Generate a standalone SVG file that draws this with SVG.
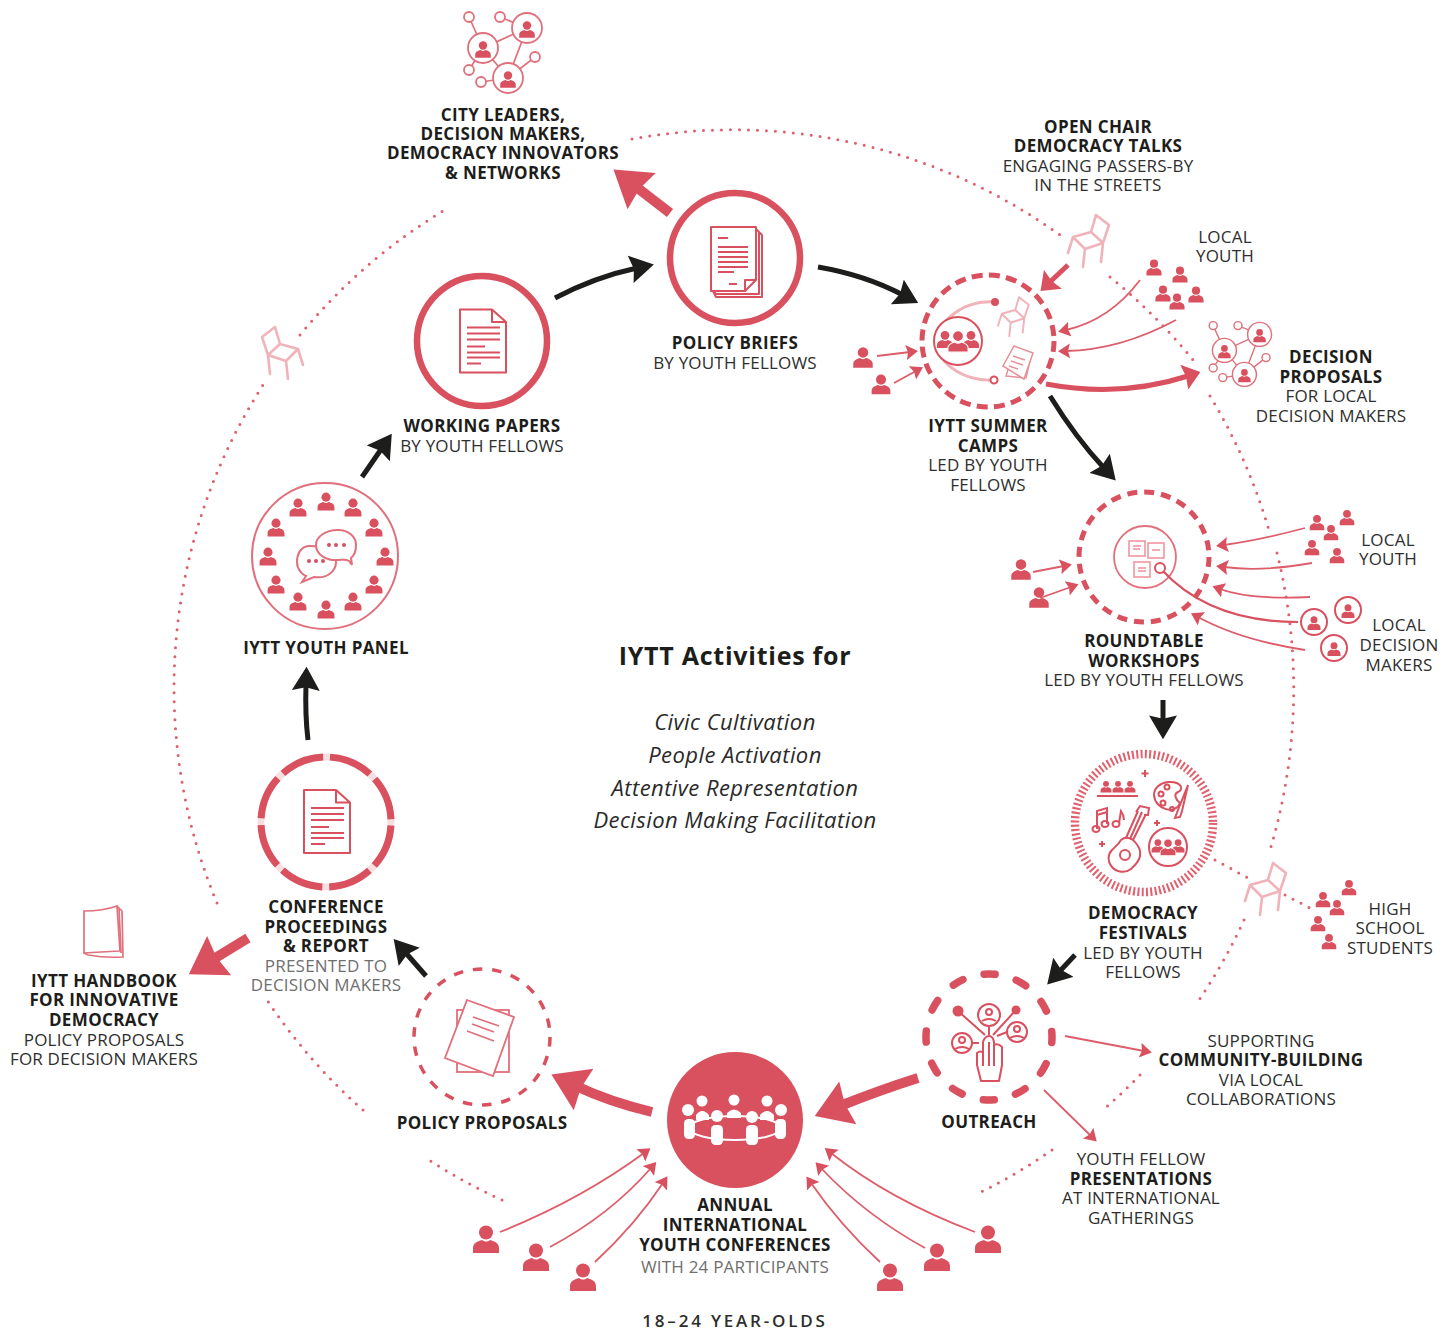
<svg xmlns="http://www.w3.org/2000/svg" width="1453" height="1332" viewBox="0 0 1453 1332">
<style>
text{font-family:"Open Sans","DejaVu Sans",sans-serif;font-size:17px;letter-spacing:.2px;text-anchor:middle;fill:#2e2e2e}
.b{font-weight:700;fill:#1d1d1b;letter-spacing:.36px}
.g{fill:#6f6f6f}
.i{font-style:italic;font-size:22px;letter-spacing:.43px;fill:#2a2a2a}
.dot{fill:none;stroke:#df5f6d;stroke-width:3;stroke-linecap:round;stroke-dasharray:0 9}
.k{fill:none;stroke:#1d1d1b;stroke-width:5;marker-end:url(#hk)}
.R{fill:none;stroke:#d9505f;stroke-width:10;marker-end:url(#hR)}
.m{fill:none;stroke:#d9505f;stroke-width:5;marker-end:url(#hm)}
.s{fill:none;stroke:#dd5d6b;stroke-width:1.800;marker-end:url(#hs)}
.l{fill:none;stroke:#d9505f;stroke-width:2;stroke-linejoin:round;stroke-linecap:butt}
.n{fill:none;stroke:#e0707c;stroke-width:1.700}
.p{fill:none;stroke:#f0b3b9;stroke-width:2;stroke-linejoin:round;stroke-linecap:round}
.f{fill:#d9505f}
.w{fill:#fff;stroke:#d9505f;stroke-width:2}
.ww{fill:#fff}
</style>
<defs>
<marker id="hk" markerUnits="userSpaceOnUse" markerWidth="26" markerHeight="28" viewBox="0 0 24 26" refX="6" refY="13" orient="auto"><path d="M0,0L22,13L0,26L3,13Z" fill="#1d1d1b"/></marker>
<marker id="hR" markerUnits="userSpaceOnUse" markerWidth="40" markerHeight="46" viewBox="0 0 36 44" refX="8" refY="22" orient="auto"><path d="M0,0L34,22L0,44L3,22Z" fill="#d9505f"/></marker>
<marker id="hm" markerUnits="userSpaceOnUse" markerWidth="20" markerHeight="26" viewBox="0 0 20 26" refX="4" refY="13" orient="auto"><path d="M0,0L17,13L0,26L2,13Z" fill="#d9505f"/></marker>
<marker id="hs" markerUnits="userSpaceOnUse" markerWidth="14" markerHeight="16" viewBox="0 0 14 16" refX="4" refY="7.500" orient="auto"><path d="M0,0L12,7.500L0,15L2,7.500Z" fill="#d9505f"/></marker>
<g id="person"><circle cy="-7.500" r="7"/><path d="M-13,13V8C-13,3-8,1-4,0C-1.500,2 1.500,2 4,0C8,1 13,3 13,8V13Z"/></g>
<g id="chair" fill="none" stroke="#f0b3b9" stroke-width="2.600" stroke-linejoin="round" stroke-linecap="round"><path d="M-15,-3L3,-8L15,3L-3,9ZM-15,-3L-20,13M-3,9L-5,27M15,3L13,22M3,-8L8,-25L21,-15L15,3"/></g>
<g id="cperson"><circle r="13" fill="#fff" stroke="#d9505f" stroke-width="2"/><use href="#person" class="f" transform="translate(0,1.500) scale(.5)"/></g>
<g id="trio"><use href="#person" class="f" transform="translate(-13,-1) scale(.62)"/><use href="#person" class="f" transform="translate(13,-1) scale(.62)"/><use href="#person" class="f" stroke="#fff" stroke-width="1.500" transform="translate(0,1) scale(.78)"/></g>
<g id="net">
<path class="n" d="M469,17L483,48M500,17L527,28M483,48L527,28M527,28L508,78M483,48L508,78M469,70L483,48M481,82L508,78M535,57L508,78"/>
<g fill="#fff" stroke="#e0707c" stroke-width="1.800"><circle cx="469" cy="17" r="5"/><circle cx="500" cy="17" r="5"/><circle cx="469" cy="70" r="5"/><circle cx="481" cy="82" r="5"/><circle cx="535" cy="57" r="5"/>
<circle cx="483" cy="48" r="15"/><circle cx="527" cy="28" r="15"/><circle cx="508" cy="78" r="15"/></g>
<use href="#person" class="f" transform="translate(483,50) scale(.6)"/><use href="#person" class="f" transform="translate(527,30) scale(.6)"/><use href="#person" class="f" transform="translate(508,80) scale(.6)"/>
</g>
<g id="doc"><path class="l" d="M-23,-31.500H9L23,-19V31.500H-23ZM9,-31.500V-19H23"/><path class="l" d="M-16,-13.500H17M-16,-7.500H17M-16,-1.500H17M-16,5.500H2M-16,11.500H17M-16,16.500H17M-16,22.500H-2"/></g>
</defs>

<g id="ring">
<path class="dot" d="M632,139A560,560 0 0 1 1060,235"/>
<path class="dot" d="M1110,277A560,560 0 0 1 1197,365"/>
<path class="dot" d="M1210,396A560,560 0 0 1 1270,534"/>
<path class="dot" d="M1277,553A560,560 0 0 1 1270,850"/>
<path class="dot" d="M1244,920A560,560 0 0 1 1199,1000"/>
<path class="dot" d="M1140,1075A560,560 0 0 1 1103,1110"/>
<path class="dot" d="M1052,1150A560,560 0 0 1 975,1195"/>
<path class="dot" d="M502,1200A560,560 0 0 1 429,1160"/>
<path class="dot" d="M363,1110A560,560 0 0 1 267,1000"/>
<path class="dot" d="M217,903A560,560 0 0 1 263,385"/>
<path class="dot" d="M300,335A560,560 0 0 1 448,208"/>
<path class="dot" d="M1215,860L1248,878M1285,895L1310,908"/>
</g>

<g id="connectors">
<path class="k" d="M555,298Q595,277 637,268"/>
<path class="k" d="M818,267Q865,275 903,295"/>
<path class="k" d="M362,477L382,448"/>
<path class="k" d="M308,740Q305,715 306,684"/>
<path class="k" d="M1050,396Q1076,438 1104,468"/>
<path class="k" d="M1163,700L1163,722"/>
<path class="k" d="M1075,955L1059,972"/>
<path class="k" d="M426,976L405,952"/>
<path class="R" d="M670,213L635,186"/>
<path class="R" d="M918,1078Q880,1090 840,1106"/>
<path class="R" d="M652,1112Q610,1102 576,1086"/>
<path class="R" d="M248,938L212,960"/>
<path class="m" d="M1046,384Q1120,398 1188,376"/>
<path class="m" d="M1068,265L1050,282"/>
<path class="s" d="M1140,280Q1110,320 1066,330"/>
<path class="s" d="M1176,320Q1120,350 1066,351"/>
<path class="s" d="M877,356L910,352"/>
<path class="s" d="M894,383L916,371"/>
<path class="s" d="M1033,572L1064,566"/>
<path class="s" d="M1040,598L1071,587"/>
<path class="s" d="M1305,528Q1260,540 1224,545"/>
<path class="s" d="M1312,563Q1260,572 1224,567"/>
<path class="s" d="M1310,597Q1250,600 1220,589"/>
<path class="s" d="M1305,650Q1240,640 1198,617"/>
<path class="s" d="M1065,1036L1144,1051"/>
<path class="s" d="M1044,1090L1091,1136"/>
<path class="s" d="M500,1232Q580,1200 644,1153"/>
<path class="s" d="M550,1247Q610,1215 651,1168"/>
<path class="s" d="M595,1262Q635,1225 663,1183"/>
<path class="s" d="M975,1232Q890,1200 831,1153"/>
<path class="s" d="M925,1248Q865,1215 821,1168"/>
<path class="s" d="M880,1262Q840,1225 811,1183"/>
</g>

<g id="city-leaders">
<use href="#net"/>
<text class="b" x="503" y="121">CITY LEADERS,</text><text class="b" x="503" y="140">DECISION MAKERS,</text><text class="b" x="503" y="159">DEMOCRACY INNOVATORS</text><text class="b" x="503" y="179">&amp; NETWORKS</text>
</g>

<g id="open-chair">
<use href="#chair" transform="translate(1088,240)"/>
<text class="b" x="1098" y="133">OPEN CHAIR</text><text class="b" x="1098" y="152">DEMOCRACY TALKS</text><text x="1098" y="172">ENGAGING PASSERS-BY</text><text x="1098" y="191">IN THE STREETS</text>
</g>
<use href="#chair" transform="translate(283,352) scale(-1,1)"/>
<use href="#chair" transform="translate(1265,888)"/>

<g id="local-youth-1">
<text x="1225" y="243">LOCAL</text><text x="1225" y="262">YOUTH</text>
<g class="f"><use href="#person" transform="translate(1154,268) scale(.58)"/><use href="#person" transform="translate(1180,275) scale(.58)"/><use href="#person" transform="translate(1163,294) scale(.58)"/><use href="#person" transform="translate(1177,302) scale(.58)"/><use href="#person" transform="translate(1196,295) scale(.58)"/></g>
</g>

<g id="decision-proposals">
<use href="#net" transform="translate(838,312) scale(.8)"/>
<text class="b" x="1331" y="363">DECISION</text><text class="b" x="1331" y="383">PROPOSALS</text><text x="1331" y="402">FOR LOCAL</text><text x="1331" y="422">DECISION MAKERS</text>
</g>

<g id="policy-briefs">
<circle cx="735" cy="258" r="65" fill="#fff" stroke="#d9505f" stroke-width="6.500"/>
<path class="l" d="M756,229L759,232V294L716,294L713,291M759,232L762,235V297H716L713,291"/>
<path class="l" d="M711,227H756V280L745,291H711ZM745,291V280H756"/>
<path class="l" d="M718,238H728M718,247H748M718,252H748M718,257H748M718,262H748M718,267H748M718,272H734M729,284H737"/>
<text class="b" x="735" y="349">POLICY BRIEFS</text><text x="735" y="369">BY YOUTH FELLOWS</text>
</g>

<g id="working-papers">
<circle cx="482" cy="341" r="65" fill="#fff" stroke="#d9505f" stroke-width="6.500"/>
<use href="#doc" transform="translate(483,341)"/>
<text class="b" x="482" y="432">WORKING PAPERS</text><text x="482" y="452">BY YOUTH FELLOWS</text>
</g>

<g id="summer-camps">
<circle cx="988" cy="341" r="66" fill="#fff" stroke="#d9505f" stroke-width="5" stroke-dasharray="11 6.300"/>
<path d="M995,302C960,300 935,325 937,345C940,365 965,382 995,380" fill="none" stroke="#f0b3b9" stroke-width="3"/>
<circle cx="995" cy="302" r="4" class="f"/><circle cx="994" cy="380" r="3.500" class="w"/>
<circle cx="958" cy="341" r="24" class="w"/>
<use href="#trio" transform="translate(958,341)"/>
<use href="#chair" transform="translate(1013,316) scale(.75)"/>
<g fill="#fff" stroke="#e68f98" stroke-width="1.500"><path d="M1006,376L1026,378L1031,356L1014,350Z"/><path d="M1003,366L1014,346L1033,353L1024,379Z"/><path d="M1013,356L1025,360M1011,361L1023,365M1009,366L1018,369"/></g>
<text class="b" x="988" y="432">IYTT SUMMER</text><text class="b" x="988" y="452">CAMPS</text><text x="988" y="471">LED BY YOUTH</text><text x="988" y="491">FELLOWS</text>
<g class="f"><use href="#person" transform="translate(863,358) scale(.75)"/><use href="#person" transform="translate(881,385) scale(.72)"/></g>
</g>

<g id="roundtable">
<circle cx="1144" cy="557" r="65" fill="#fff" stroke="#d9505f" stroke-width="5" stroke-dasharray="10 7"/>
<circle cx="1145" cy="557" r="31" fill="none" stroke="#e0707c" stroke-width="1.800"/>
<g fill="#fff" stroke="#f08f99" stroke-width="1.500"><rect x="1129" y="541" width="16" height="15"/><rect x="1148" y="543" width="16" height="15"/><rect x="1134" y="562" width="16" height="15"/></g>
<path d="M1133,546H1141M1133,549H1140M1152,550H1160M1138,568H1146M1138,571H1146" stroke="#f08f99" stroke-width="1.500"/>
<path d="M1162,570Q1210,622 1298,622" fill="none" stroke="#d9505f" stroke-width="2.200"/>
<circle cx="1160" cy="568" r="5" class="w"/>
<text class="b" x="1144" y="647">ROUNDTABLE</text><text class="b" x="1144" y="667">WORKSHOPS</text><text x="1144" y="686">LED BY YOUTH FELLOWS</text>
<g class="f"><use href="#person" transform="translate(1021,570) scale(.75)"/><use href="#person" transform="translate(1039,598) scale(.75)"/></g>
</g>

<g id="local-youth-2">
<g class="f"><use href="#person" transform="translate(1317,523) scale(.56)"/><use href="#person" transform="translate(1347,518) scale(.56)"/><use href="#person" transform="translate(1331,533) scale(.56)"/><use href="#person" transform="translate(1312,548) scale(.56)"/><use href="#person" transform="translate(1337,556) scale(.56)"/></g>
<text x="1388" y="546">LOCAL</text><text x="1388" y="565">YOUTH</text>
</g>

<g id="local-decision-makers">
<use href="#cperson" transform="translate(1348,610)"/><use href="#cperson" transform="translate(1314,622)"/><use href="#cperson" transform="translate(1334,648)"/>
<text x="1399" y="631">LOCAL</text><text x="1399" y="651">DECISION</text><text x="1399" y="671">MAKERS</text>
</g>

<g id="festivals">
<circle cx="1144" cy="823" r="69" fill="none" stroke="#e0606e" stroke-width="8.500" stroke-dasharray="2 2.340"/>
<g class="f"><use href="#person" transform="translate(1106,787) scale(.42)"/><use href="#person" transform="translate(1118,787) scale(.42)"/><use href="#person" transform="translate(1130,787) scale(.42)"/></g>
<g class="n" style="stroke:#d9505f;stroke-width:2">
<path d="M1097,796H1138M1145,770V777M1141.500,773.500H1148.500M1157,820V826M1154,823H1160M1102,841V847M1099,844H1105"/>
<path d="M1168,782C1182,781 1184,790 1178,792C1173,794 1176,800 1180,803C1176,815 1155,810 1154,795C1154,788 1160,783 1168,782Z"/>
<circle cx="1161" cy="794" r="2.500"/><circle cx="1167" cy="787" r="2.500"/><circle cx="1163" cy="803" r="2.500"/><circle cx="1172" cy="809" r="2"/>
<path d="M1188,785L1178,810L1175,818L1180,817L1182,811Z"/>
<path d="M1097,829V811L1107,808V824M1097,815L1107,812"/><ellipse cx="1096" cy="829" rx="3.500" ry="3"/><ellipse cx="1105" cy="824" rx="3.500" ry="3"/>
<path d="M1119,823L1121,811Q1124,815 1124,820"/><ellipse cx="1116" cy="824" rx="3.500" ry="3"/>
<path d="M1121,840C1126,836 1132,838 1135,842C1139,847 1141,850 1140,856C1139,862 1135,865 1131,869C1126,873 1117,873 1112,867C1107,861 1108,854 1112,850C1115,847 1118,845 1121,840Z"/>
<path d="M1126,838L1138,811M1133,840L1146,814M1130,839L1142,812M1136,812L1140,806L1149,808L1148,815L1144,815"/>
<circle cx="1125" cy="855" r="5"/>
<circle cx="1168" cy="847" r="19"/>
</g>
<use href="#trio" transform="translate(1168,847) scale(.78)"/>
<text class="b" x="1143" y="919">DEMOCRACY</text><text class="b" x="1143" y="939">FESTIVALS</text><text x="1143" y="959">LED BY YOUTH</text><text x="1143" y="978">FELLOWS</text>
</g>

<g id="high-school">
<g class="f"><use href="#person" transform="translate(1323,900) scale(.56)"/><use href="#person" transform="translate(1349,888) scale(.56)"/><use href="#person" transform="translate(1337,908) scale(.56)"/><use href="#person" transform="translate(1318,924) scale(.56)"/><use href="#person" transform="translate(1329,942) scale(.56)"/></g>
<text x="1390" y="915">HIGH</text><text x="1390" y="934">SCHOOL</text><text x="1390" y="954">STUDENTS</text>
</g>

<g id="outreach">
<circle cx="989" cy="1037" r="63" fill="none" stroke="#d9505f" stroke-width="7.500" stroke-linecap="round" stroke-dasharray="11 22" transform="rotate(-5 989 1037)"/>
<path class="l" d="M958,1011L985,1035M1016,1010L993,1035M989,1026V1035M972,1043H979M1007,1032L997,1036"/>
<circle cx="958" cy="1011" r="5.500" class="f"/><circle cx="1016" cy="1010" r="4.500" class="f"/>
<g class="w"><circle cx="989" cy="1015" r="11"/><circle cx="962" cy="1043" r="10"/><circle cx="1017" cy="1032" r="10"/></g>
<g class="l"><circle cx="989" cy="1012" r="3"/><path d="M982,1021Q989,1017 996,1021"/><circle cx="962" cy="1040" r="3"/><path d="M955,1049Q962,1045 969,1049"/><circle cx="1017" cy="1029" r="3"/><path d="M1010,1038Q1017,1034 1024,1038"/></g>
<path class="l" style="fill:#fff" d="M981,1081L977,1065V1053Q981,1050 983,1053V1042Q985,1036 989,1036Q993,1036 994,1042V1045Q998,1043 1002,1047V1065L999,1081ZM983,1053V1066M989,1042V1066M994,1045V1066"/>
<text class="b" x="989" y="1128">OUTREACH</text>
</g>

<g id="supporting">
<text x="1261" y="1047">SUPPORTING</text><text class="b" x="1261" y="1066">COMMUNITY-BUILDING</text><text x="1261" y="1086">VIA LOCAL</text><text x="1261" y="1105">COLLABORATIONS</text>
</g>

<g id="presentations">
<text x="1141" y="1165">YOUTH FELLOW</text><text class="b" x="1141" y="1185">PRESENTATIONS</text><text x="1141" y="1204">AT INTERNATIONAL</text><text x="1141" y="1224">GATHERINGS</text>
</g>

<g id="annual-conferences">
<circle cx="735" cy="1120" r="68" class="f"/>
<g class="ww"><circle cx="702" cy="1101" r="5.500"/><circle cx="734" cy="1100" r="5.500"/><circle cx="767" cy="1101" r="5.500"/><path d="M696,1120V1115Q702,1107 709,1115V1120ZM727,1118V1113Q734,1106 741,1113V1118ZM760,1120V1115Q767,1107 774,1115V1120Z"/></g>
<ellipse cx="735" cy="1128" rx="46" ry="12" fill="none" stroke="#fff" stroke-width="2"/>
<g class="ww"><circle cx="688" cy="1110" r="6"/><circle cx="717" cy="1116" r="6"/><circle cx="752" cy="1117" r="6"/><circle cx="781" cy="1110" r="6"/><rect x="684" y="1119" width="11" height="20" rx="4.500"/><rect x="711" y="1125" width="12" height="20" rx="4.500"/><rect x="746" y="1125" width="12" height="20" rx="4.500"/><rect x="775" y="1119" width="11" height="20" rx="4.500"/></g>
<text class="b" x="735" y="1211">ANNUAL</text><text class="b" x="735" y="1231">INTERNATIONAL</text><text class="b" x="735" y="1251">YOUTH CONFERENCES</text><text class="g" x="735" y="1273">WITH 24 PARTICIPANTS</text>
<g class="f"><use href="#person" transform="translate(486,1240)"/><use href="#person" transform="translate(536,1258)"/><use href="#person" transform="translate(583,1278)"/><use href="#person" transform="translate(890,1278)"/><use href="#person" transform="translate(937,1258)"/><use href="#person" transform="translate(988,1240)"/></g>
</g>

<g id="policy-proposals">
<circle cx="482" cy="1037" r="68" fill="#fff" stroke="#d9505f" stroke-width="3.500" stroke-dasharray="9.500 9.920"/>
<g fill="#fff" stroke="#e0707c" stroke-width="1.800"><rect x="457" y="1010" width="52" height="62"/><path d="M467,1000L514,1017L493,1076L445,1058Z"/><path d="M473,1017L499,1026M472,1024L494,1032M467,1031L494,1041"/></g>
<text class="b" x="482" y="1129">POLICY PROPOSALS</text>
</g>

<g id="conference-proceedings">
<circle cx="326" cy="822" r="65" fill="#fff" stroke="#f7dfe1" stroke-width="7"/>
<circle cx="326" cy="822" r="65" fill="none" stroke="#d9505f" stroke-width="7" stroke-dasharray="44.050 7" transform="rotate(3.100 326 822)"/>
<use href="#doc" transform="translate(327,821.500)"/>
<text class="b" x="326" y="913">CONFERENCE</text><text class="b" x="326" y="933">PROCEEDINGS</text><text class="b" x="326" y="952">&amp; REPORT</text><text class="g" x="326" y="972">PRESENTED TO</text><text class="g" x="326" y="991">DECISION MAKERS</text>
</g>

<g id="handbook">
<g class="n"><path d="M117,906L122,911L123,957Q105,958 88,955L84,953M119,908L121,953"/><path d="M84,911Q103,911 117,906L120,951Q100,952 84,953Z" style="fill:#fff"/></g>
<text class="b" x="104" y="987">IYTT HANDBOOK</text><text class="b" x="104" y="1006">FOR INNOVATIVE</text><text class="b" x="104" y="1026">DEMOCRACY</text><text x="104" y="1046">POLICY PROPOSALS</text><text x="104" y="1065">FOR DECISION MAKERS</text>
</g>

<g id="youth-panel">
<circle cx="325" cy="556" r="73" fill="#fff" stroke="#e0707c" stroke-width="2"/>
<g class="f"><use href="#person" transform="translate(326,502) scale(.65)"/><use href="#person" transform="translate(353,508) scale(.65)"/><use href="#person" transform="translate(374,528) scale(.65)"/><use href="#person" transform="translate(385,557) scale(.65)"/><use href="#person" transform="translate(374,585) scale(.65)"/><use href="#person" transform="translate(353,602) scale(.65)"/><use href="#person" transform="translate(326,610) scale(.65)"/><use href="#person" transform="translate(298,602) scale(.65)"/><use href="#person" transform="translate(276,585) scale(.65)"/><use href="#person" transform="translate(268,557) scale(.65)"/><use href="#person" transform="translate(276,528) scale(.65)"/><use href="#person" transform="translate(298,508) scale(.65)"/></g>
<path d="M310,546C300,546 297,555 297,562C297,570 303,575 306,576L302,582L314,577C326,579 336,572 336,562C336,553 325,546 310,546Z" fill="#fff" stroke="#e0707c" stroke-width="2"/>
<path d="M338,530C325,530 316,537 316,545C316,555 327,561 338,560C343,560 346,559 349,561L352,565L351,558C355,555 356,550 356,545C356,537 349,530 338,530Z" fill="#fff" stroke="#e0707c" stroke-width="2"/>
<g class="f"><circle cx="309" cy="561" r="2"/><circle cx="316" cy="561" r="2"/><circle cx="323" cy="561" r="2"/><circle cx="329" cy="545" r="2"/><circle cx="336" cy="545" r="2"/><circle cx="344" cy="545" r="2"/></g>
<text class="b" x="326" y="654">IYTT YOUTH PANEL</text>
</g>

<g id="center-text">
<text x="735" y="665" style="font-size:25px;font-weight:700;letter-spacing:.75px;fill:#1d1d1b">IYTT Activities for</text>
<text class="i" x="735" y="730">Civic Cultivation</text>
<text class="i" x="735" y="763">People Activation</text>
<text class="i" x="735" y="796">Attentive Representation</text>
<text class="i" x="735" y="828">Decision Making Facilitation</text>
<text x="735" y="1327" style="font-weight:600;letter-spacing:2.800px">18–24 YEAR-OLDS</text>
</g>
</svg>
